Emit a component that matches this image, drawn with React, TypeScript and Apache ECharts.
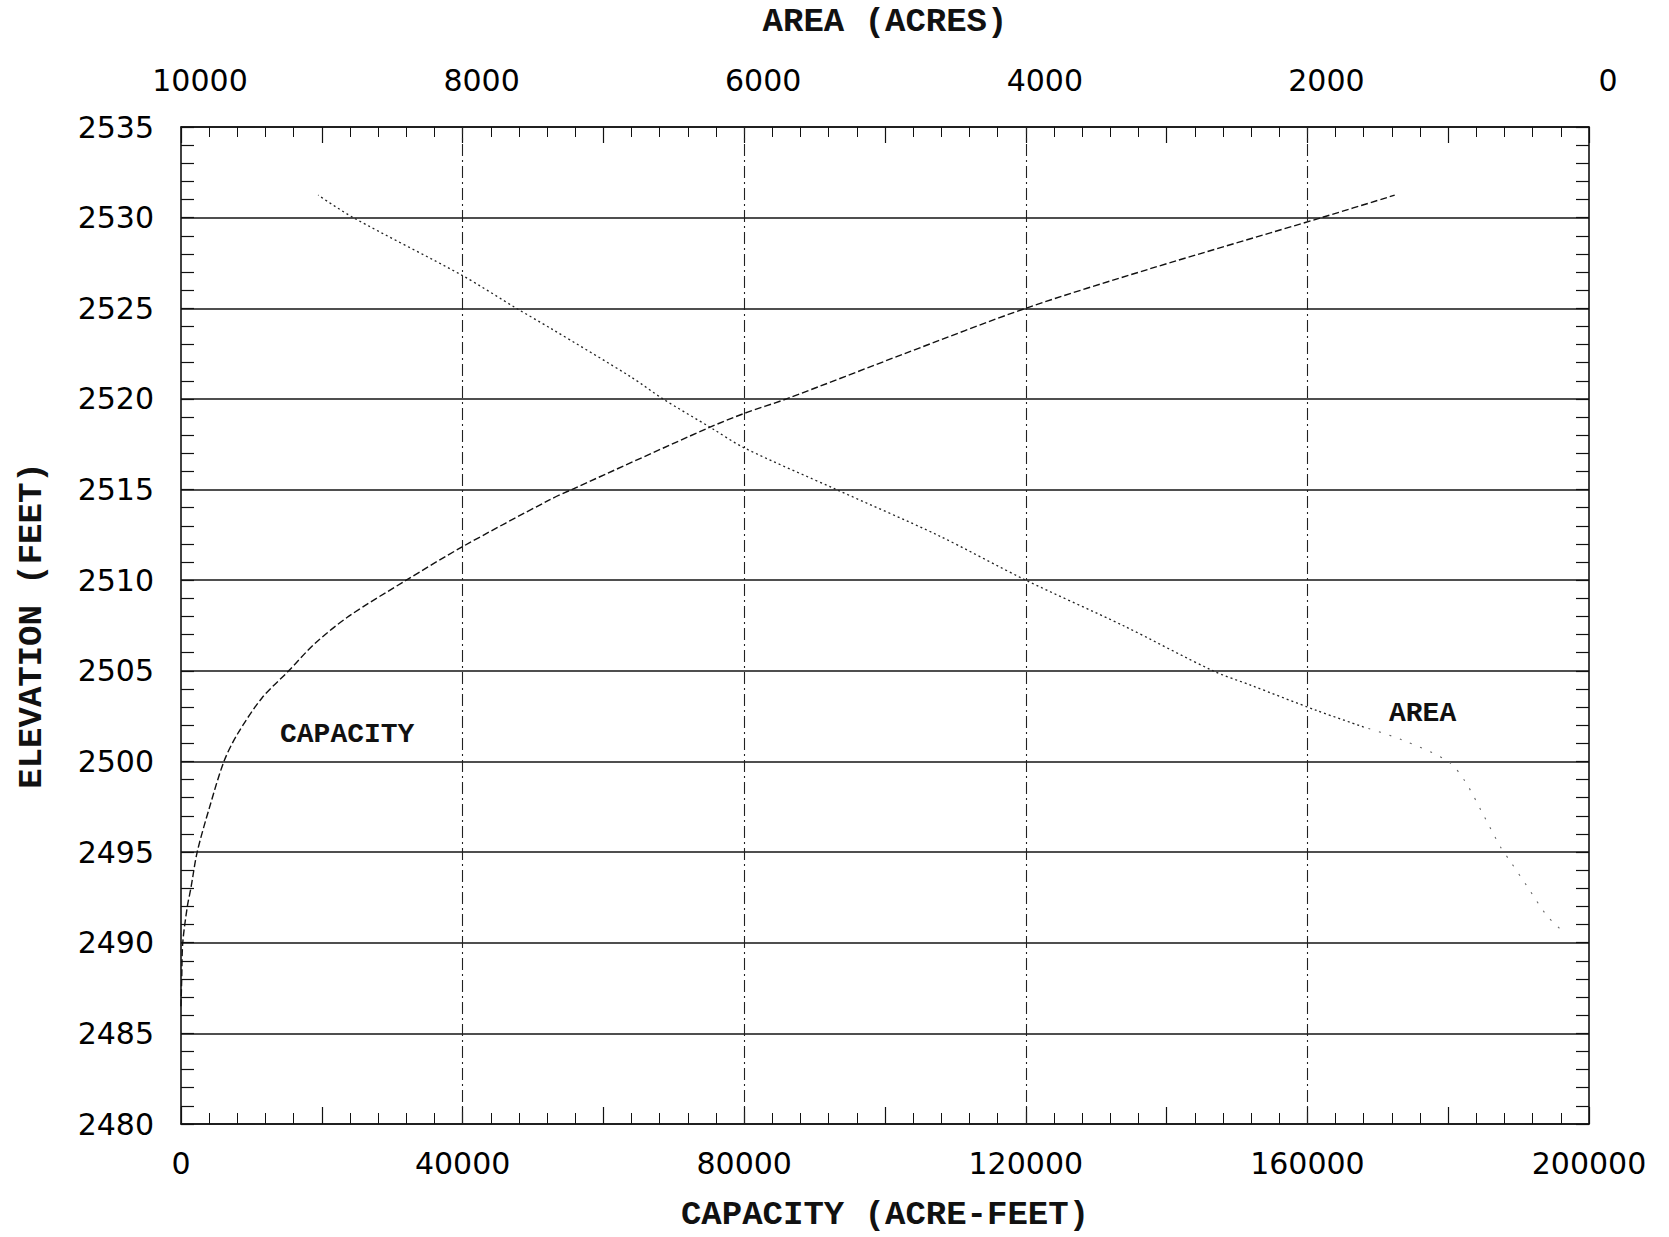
import React, { useEffect, useRef } from "react";
import * as echarts from "echarts";

// Capacity curve (bottom axis): elevation (ft) vs capacity (acre-feet)
const capElevation = [2486.5, 2488, 2490, 2492, 2493, 2495, 2497.4, 2500, 2501.5, 2503.5, 2505, 2506.5, 2508, 2510, 2511.85, 2514.4, 2515, 2518.4, 2519.2, 2520, 2522.5, 2525, 2527.15, 2530, 2531.24];
const capacityAF = [0, 100, 250, 900, 1400, 2300, 4000, 6100, 8000, 11500, 15300, 19000, 23800, 32000, 40000, 52200, 55500, 74900, 80000, 86000, 102800, 120000, 137400, 162000, 172400];

// Area curve (top axis): elevation (ft) vs area (acres)
const areaElevation = [2490.8, 2491.5, 2493, 2494.5, 2495.3, 2497.2, 2498.9, 2500, 2501.2, 2501.9, 2502.8, 2504.2, 2505, 2507.5, 2510, 2512.5, 2515, 2517.3, 2518.4, 2520, 2521.2, 2523.9, 2525, 2526.8, 2530, 2531.24];
const areaAcres = [210, 300, 430, 560, 630, 760, 880, 1000, 1330, 1600, 1930, 2400, 2670, 3310, 4000, 4630, 5346, 6000, 6234, 6577, 6802, 7376, 7618, 8000, 8776, 9026];

// Elevation below which the printed area curve fades to sparse dots
const areaFaintBelow = 2501.9;

// Vertical grid lines (capacity values)
const capacityGridLines = [40000, 80000, 120000, 160000];

const TICK_FONT = "DejaVu Sans";
const TITLE_FONT = "Liberation Mono";

export default function App() {
  const ref = useRef<HTMLDivElement>(null);

  useEffect(() => {
    if (!ref.current) return;
    const chart = echarts.init(ref.current, null, { renderer: "svg" });

    const capData = capacityAF.map((c, i) => [c, capElevation[i]]);
    const areaAll = areaAcres.map((a, i) => [a, areaElevation[i]]);
    const areaUpper = areaAll.filter((p) => p[1] >= areaFaintBelow);
    const areaLower = areaAll.filter((p) => p[1] <= areaFaintBelow);

    const axisLine = { show: true, lineStyle: { color: "#111", width: 1.6 } };
    const labelBase = { color: "#000", fontFamily: TICK_FONT, fontSize: 30 };

    chart.setOption({
      animation: false,
      backgroundColor: "#ffffff",
      grid: { left: 181, right: 80, top: 127, bottom: 110, containLabel: false },
      xAxis: [
        {
          type: "value",
          position: "bottom",
          min: 0,
          max: 200000,
          interval: 20000,
          name: "CAPACITY (ACRE-FEET)",
          nameLocation: "middle",
          nameGap: 74,
          nameTextStyle: { fontFamily: TITLE_FONT, fontWeight: "bold", fontSize: 34, color: "#111" },
          axisLine,
          axisTick: { show: true, inside: true, length: 17, lineStyle: { color: "#111", width: 1.2 } },
          minorTick: { show: true, splitNumber: 5, length: 11, lineStyle: { color: "#111", width: 1 } },
          axisLabel: {
            ...labelBase,
            margin: 24,
            formatter: (v: number) => (v % 40000 === 0 ? String(v) : ""),
          },
          splitLine: { show: false },
        },
        {
          type: "value",
          position: "top",
          min: 0,
          max: 10000,
          interval: 1000,
          inverse: true,
          name: "AREA (ACRES)",
          nameLocation: "middle",
          nameGap: 88,
          nameTextStyle: { fontFamily: TITLE_FONT, fontWeight: "bold", fontSize: 34, color: "#111" },
          axisLine,
          axisTick: { show: true, inside: true, length: 16, lineStyle: { color: "#111", width: 1.2 } },
          minorTick: { show: true, splitNumber: 5, length: 10, lineStyle: { color: "#111", width: 1 } },
          axisLabel: {
            ...labelBase,
            margin: 32,
            padding: [0, 0, 0, 38],
            formatter: (v: number) => (v % 2000 === 0 ? String(v) : ""),
          },
          splitLine: { show: false },
        },
      ],
      yAxis: [
        {
          type: "value",
          position: "left",
          min: 2480,
          max: 2535,
          interval: 5,
          name: "ELEVATION (FEET)",
          nameLocation: "middle",
          nameGap: 132,
          nameTextStyle: { fontFamily: TITLE_FONT, fontWeight: "bold", fontSize: 34, color: "#111" },
          axisLine,
          axisTick: { show: true, inside: true, length: 13, lineStyle: { color: "#111", width: 1.2 } },
          minorTick: { show: true, splitNumber: 5, length: 13, lineStyle: { color: "#111", width: 1.2 } },
          axisLabel: { ...labelBase, margin: 27, formatter: (v: number) => String(v) },
          splitLine: { show: true, lineStyle: { color: "#151515", width: 1.7, type: "solid" } },
        },
        {
          type: "value",
          position: "right",
          min: 2480,
          max: 2535,
          interval: 5,
          axisLine,
          axisTick: { show: true, inside: true, length: 13, lineStyle: { color: "#111", width: 1.2 } },
          minorTick: { show: true, splitNumber: 5, length: 13, lineStyle: { color: "#111", width: 1.2 } },
          axisLabel: { show: false },
          splitLine: { show: false },
        },
      ],
      graphic: [
        {
          type: "text",
          left: 280,
          top: 720,
          style: { text: "CAPACITY", fontFamily: TITLE_FONT, fontWeight: "bold", fontSize: 28, fill: "#111" },
        },
        {
          type: "text",
          left: 1389,
          top: 699,
          style: { text: "AREA", fontFamily: TITLE_FONT, fontWeight: "bold", fontSize: 28, fill: "#111" },
        },
      ],
      series: [
        {
          name: "CAPACITY",
          type: "line",
          xAxisIndex: 0,
          yAxisIndex: 0,
          data: capData,
          showSymbol: false,
          smooth: 0.3,
          lineStyle: { color: "#111", width: 1.4, type: [7, 3] },
          markLine: {
            silent: true,
            symbol: ["none", "none"],
            label: { show: false },
            lineStyle: { color: "#222", width: 1.1, type: [12, 4, 2, 4] },
            data: capacityGridLines.map((v) => ({ xAxis: v })),
          },
          z: 3,
        },
        {
          name: "AREA",
          type: "line",
          xAxisIndex: 1,
          yAxisIndex: 0,
          data: areaUpper,
          showSymbol: false,
          smooth: 0.3,
          lineStyle: { color: "#222", width: 1.3, type: [2, 3] },
          z: 3,
        },
        {
          name: "AREA (faint)",
          type: "line",
          xAxisIndex: 1,
          yAxisIndex: 0,
          data: areaLower,
          showSymbol: false,
          smooth: 0.3,
          lineStyle: { color: "#666", width: 1.1, type: [2, 9] },
          z: 3,
        },
      ],
    });

    return () => chart.dispose();
  }, []);

  return (
    <div
      ref={ref}
      style={{ position: "fixed", left: 0, top: 0, width: 1669, height: 1237, background: "#fff" }}
    />
  );
}
